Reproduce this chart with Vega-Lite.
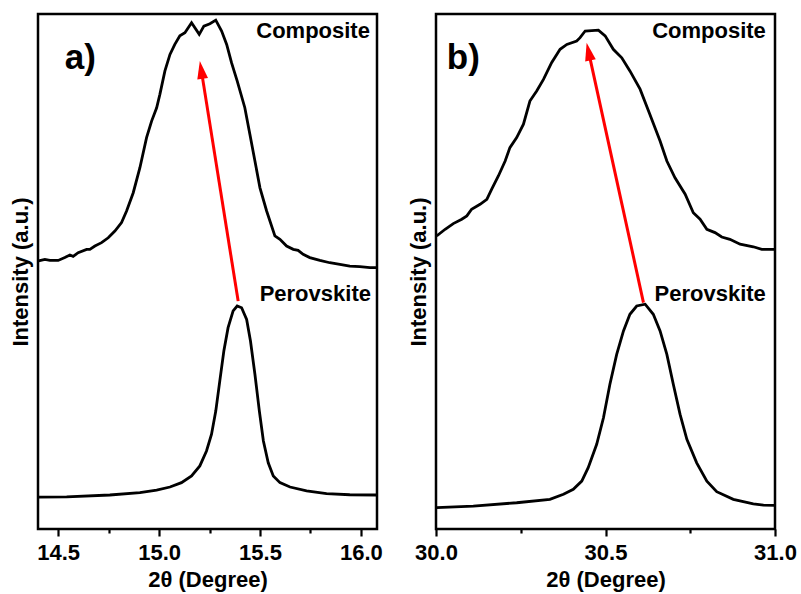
{
  "$schema": "https://vega.github.io/schema/vega-lite/v6.json",
  "padding": {"left": 7, "top": 12, "right": 5, "bottom": 5},
  "background": "white",
  "config": {
    "font": "Liberation Sans",
    "view": {"stroke": "black", "strokeWidth": 2.5},
    "axis": {"labelFont": "Liberation Sans", "titleFont": "Liberation Sans", "labelFontWeight": "bold", "titleFontWeight": "bold", "labelFontSize": 22, "titleFontSize": 22, "labelColor": "black", "titleColor": "black", "tickColor": "black", "domain": false, "grid": false}
  },
  "spacing": 21,
  "datasets": {
    "curvesA": [
      {"series": "Composite", "x": 14.403, "y": 1.041},
      {"series": "Composite", "x": 14.434, "y": 1.047},
      {"series": "Composite", "x": 14.459, "y": 1.043},
      {"series": "Composite", "x": 14.500, "y": 1.043},
      {"series": "Composite", "x": 14.533, "y": 1.054},
      {"series": "Composite", "x": 14.558, "y": 1.064},
      {"series": "Composite", "x": 14.574, "y": 1.059},
      {"series": "Composite", "x": 14.599, "y": 1.073},
      {"series": "Composite", "x": 14.641, "y": 1.086},
      {"series": "Composite", "x": 14.657, "y": 1.086},
      {"series": "Composite", "x": 14.682, "y": 1.099},
      {"series": "Composite", "x": 14.715, "y": 1.112},
      {"series": "Composite", "x": 14.748, "y": 1.131},
      {"series": "Composite", "x": 14.781, "y": 1.157},
      {"series": "Composite", "x": 14.814, "y": 1.190},
      {"series": "Composite", "x": 14.839, "y": 1.235},
      {"series": "Composite", "x": 14.872, "y": 1.306},
      {"series": "Composite", "x": 14.905, "y": 1.403},
      {"series": "Composite", "x": 14.938, "y": 1.520},
      {"series": "Composite", "x": 14.963, "y": 1.584},
      {"series": "Composite", "x": 14.988, "y": 1.636},
      {"series": "Composite", "x": 15.004, "y": 1.688},
      {"series": "Composite", "x": 15.029, "y": 1.779},
      {"series": "Composite", "x": 15.054, "y": 1.843},
      {"series": "Composite", "x": 15.078, "y": 1.882},
      {"series": "Composite", "x": 15.103, "y": 1.915},
      {"series": "Composite", "x": 15.128, "y": 1.927},
      {"series": "Composite", "x": 15.161, "y": 1.966},
      {"series": "Composite", "x": 15.199, "y": 1.921},
      {"series": "Composite", "x": 15.222, "y": 1.953},
      {"series": "Composite", "x": 15.252, "y": 1.962},
      {"series": "Composite", "x": 15.281, "y": 1.976},
      {"series": "Composite", "x": 15.310, "y": 1.934},
      {"series": "Composite", "x": 15.335, "y": 1.882},
      {"series": "Composite", "x": 15.359, "y": 1.811},
      {"series": "Composite", "x": 15.387, "y": 1.740},
      {"series": "Composite", "x": 15.425, "y": 1.636},
      {"series": "Composite", "x": 15.450, "y": 1.533},
      {"series": "Composite", "x": 15.475, "y": 1.429},
      {"series": "Composite", "x": 15.500, "y": 1.325},
      {"series": "Composite", "x": 15.533, "y": 1.235},
      {"series": "Composite", "x": 15.574, "y": 1.138},
      {"series": "Composite", "x": 15.599, "y": 1.125},
      {"series": "Composite", "x": 15.632, "y": 1.099},
      {"series": "Composite", "x": 15.665, "y": 1.086},
      {"series": "Composite", "x": 15.689, "y": 1.082},
      {"series": "Composite", "x": 15.714, "y": 1.067},
      {"series": "Composite", "x": 15.747, "y": 1.054},
      {"series": "Composite", "x": 15.797, "y": 1.043},
      {"series": "Composite", "x": 15.846, "y": 1.034},
      {"series": "Composite", "x": 15.896, "y": 1.028},
      {"series": "Composite", "x": 15.945, "y": 1.021},
      {"series": "Composite", "x": 15.995, "y": 1.019},
      {"series": "Composite", "x": 16.045, "y": 1.015},
      {"series": "Composite", "x": 16.078, "y": 1.015},
      {"series": "Perovskite", "x": 14.403, "y": 0.124},
      {"series": "Perovskite", "x": 14.542, "y": 0.125},
      {"series": "Perovskite", "x": 14.756, "y": 0.132},
      {"series": "Perovskite", "x": 14.905, "y": 0.141},
      {"series": "Perovskite", "x": 14.988, "y": 0.151},
      {"series": "Perovskite", "x": 15.054, "y": 0.163},
      {"series": "Perovskite", "x": 15.111, "y": 0.180},
      {"series": "Perovskite", "x": 15.161, "y": 0.206},
      {"series": "Perovskite", "x": 15.202, "y": 0.245},
      {"series": "Perovskite", "x": 15.235, "y": 0.303},
      {"series": "Perovskite", "x": 15.260, "y": 0.368},
      {"series": "Perovskite", "x": 15.281, "y": 0.458},
      {"series": "Perovskite", "x": 15.301, "y": 0.575},
      {"series": "Perovskite", "x": 15.321, "y": 0.691},
      {"series": "Perovskite", "x": 15.342, "y": 0.782},
      {"series": "Perovskite", "x": 15.367, "y": 0.847},
      {"series": "Perovskite", "x": 15.387, "y": 0.866},
      {"series": "Perovskite", "x": 15.409, "y": 0.859},
      {"series": "Perovskite", "x": 15.434, "y": 0.814},
      {"series": "Perovskite", "x": 15.453, "y": 0.730},
      {"series": "Perovskite", "x": 15.475, "y": 0.601},
      {"series": "Perovskite", "x": 15.497, "y": 0.458},
      {"series": "Perovskite", "x": 15.517, "y": 0.342},
      {"series": "Perovskite", "x": 15.541, "y": 0.257},
      {"series": "Perovskite", "x": 15.566, "y": 0.206},
      {"series": "Perovskite", "x": 15.599, "y": 0.180},
      {"series": "Perovskite", "x": 15.649, "y": 0.163},
      {"series": "Perovskite", "x": 15.731, "y": 0.148},
      {"series": "Perovskite", "x": 15.830, "y": 0.137},
      {"series": "Perovskite", "x": 15.945, "y": 0.133},
      {"series": "Perovskite", "x": 16.078, "y": 0.132}
    ],
    "curvesB": [
      {"series": "Composite", "x": 30.002, "y": 1.138},
      {"series": "Composite", "x": 30.027, "y": 1.164},
      {"series": "Composite", "x": 30.051, "y": 1.186},
      {"series": "Composite", "x": 30.076, "y": 1.203},
      {"series": "Composite", "x": 30.091, "y": 1.216},
      {"series": "Composite", "x": 30.105, "y": 1.242},
      {"series": "Composite", "x": 30.130, "y": 1.261},
      {"series": "Composite", "x": 30.150, "y": 1.280},
      {"series": "Composite", "x": 30.164, "y": 1.319},
      {"series": "Composite", "x": 30.184, "y": 1.371},
      {"series": "Composite", "x": 30.204, "y": 1.429},
      {"series": "Composite", "x": 30.218, "y": 1.481},
      {"series": "Composite", "x": 30.238, "y": 1.520},
      {"series": "Composite", "x": 30.258, "y": 1.572},
      {"series": "Composite", "x": 30.277, "y": 1.662},
      {"series": "Composite", "x": 30.297, "y": 1.701},
      {"series": "Composite", "x": 30.317, "y": 1.746},
      {"series": "Composite", "x": 30.341, "y": 1.811},
      {"series": "Composite", "x": 30.366, "y": 1.863},
      {"series": "Composite", "x": 30.386, "y": 1.882},
      {"series": "Composite", "x": 30.415, "y": 1.895},
      {"series": "Composite", "x": 30.425, "y": 1.908},
      {"series": "Composite", "x": 30.440, "y": 1.934},
      {"series": "Composite", "x": 30.479, "y": 1.937},
      {"series": "Composite", "x": 30.499, "y": 1.915},
      {"series": "Composite", "x": 30.523, "y": 1.863},
      {"series": "Composite", "x": 30.548, "y": 1.830},
      {"series": "Composite", "x": 30.572, "y": 1.779},
      {"series": "Composite", "x": 30.602, "y": 1.708},
      {"series": "Composite", "x": 30.631, "y": 1.610},
      {"series": "Composite", "x": 30.661, "y": 1.507},
      {"series": "Composite", "x": 30.681, "y": 1.429},
      {"series": "Composite", "x": 30.705, "y": 1.364},
      {"series": "Composite", "x": 30.735, "y": 1.300},
      {"series": "Composite", "x": 30.759, "y": 1.228},
      {"series": "Composite", "x": 30.779, "y": 1.203},
      {"series": "Composite", "x": 30.799, "y": 1.164},
      {"series": "Composite", "x": 30.823, "y": 1.151},
      {"series": "Composite", "x": 30.843, "y": 1.134},
      {"series": "Composite", "x": 30.867, "y": 1.125},
      {"series": "Composite", "x": 30.897, "y": 1.106},
      {"series": "Composite", "x": 30.936, "y": 1.096},
      {"series": "Composite", "x": 30.961, "y": 1.086},
      {"series": "Composite", "x": 30.999, "y": 1.086},
      {"series": "Perovskite", "x": 30.002, "y": 0.083},
      {"series": "Perovskite", "x": 30.110, "y": 0.089},
      {"series": "Perovskite", "x": 30.238, "y": 0.102},
      {"series": "Perovskite", "x": 30.336, "y": 0.115},
      {"series": "Perovskite", "x": 30.376, "y": 0.135},
      {"series": "Perovskite", "x": 30.405, "y": 0.154},
      {"series": "Perovskite", "x": 30.430, "y": 0.186},
      {"series": "Perovskite", "x": 30.449, "y": 0.238},
      {"series": "Perovskite", "x": 30.474, "y": 0.329},
      {"series": "Perovskite", "x": 30.494, "y": 0.432},
      {"series": "Perovskite", "x": 30.513, "y": 0.562},
      {"series": "Perovskite", "x": 30.533, "y": 0.678},
      {"series": "Perovskite", "x": 30.553, "y": 0.769},
      {"series": "Perovskite", "x": 30.572, "y": 0.834},
      {"series": "Perovskite", "x": 30.592, "y": 0.866},
      {"series": "Perovskite", "x": 30.617, "y": 0.873},
      {"series": "Perovskite", "x": 30.641, "y": 0.834},
      {"series": "Perovskite", "x": 30.661, "y": 0.769},
      {"series": "Perovskite", "x": 30.681, "y": 0.678},
      {"series": "Perovskite", "x": 30.700, "y": 0.562},
      {"series": "Perovskite", "x": 30.720, "y": 0.445},
      {"series": "Perovskite", "x": 30.740, "y": 0.348},
      {"series": "Perovskite", "x": 30.769, "y": 0.257},
      {"series": "Perovskite", "x": 30.799, "y": 0.186},
      {"series": "Perovskite", "x": 30.828, "y": 0.145},
      {"series": "Perovskite", "x": 30.877, "y": 0.115},
      {"series": "Perovskite", "x": 30.936, "y": 0.098},
      {"series": "Perovskite", "x": 30.966, "y": 0.093},
      {"series": "Perovskite", "x": 30.999, "y": 0.092}
    ],
    "labelsA": [
      {"text": "Composite", "x": 16.045, "y": 1.906},
      {"text": "Perovskite", "x": 16.05, "y": 0.885}
    ],
    "labelsB": [
      {"text": "Composite", "x": 30.973, "y": 1.906},
      {"text": "Perovskite", "x": 30.973, "y": 0.885}
    ],
    "panelA": [{"text": "a)", "x": 14.533, "y": 1.786}],
    "panelB": [{"text": "b)", "x": 30.032, "y": 1.786}],
    "arrowA": [{"x": 15.392, "y": 0.885, "x2": 15.209, "y2": 1.783}],
    "arrowB": [{"x": 30.612, "y": 0.879, "x2": 30.450, "y2": 1.854}]
  },
  "hconcat": [
    {
      "width": 339,
      "height": 515,
      "layer": [
        {
          "data": {"name": "curvesA"},
          "mark": {"type": "line", "color": "black", "strokeWidth": 2.8, "clip": true},
          "encoding": {
            "x": {"field": "x", "type": "quantitative", "scale": {"domain": [14.4, 16.08], "nice": false, "zero": false},
              "axis": {"title": "2θ (Degree)", "values": [14.5, 14.75, 15, 15.25, 15.5, 15.75, 16], "labelExpr": "datum.value % 0.5 === 0 ? format(datum.value, '.1f') : ''", "tickSize": {"condition": {"test": "datum.value % 0.5 === 0", "value": 7}, "value": 4}, "tickWidth": 2.2, "labelPadding": 6, "titlePadding": 6, "labelOverlap": false, "labelFlush": false}},
            "y": {"field": "y", "type": "quantitative", "scale": {"domain": [0, 2], "nice": false, "zero": false},
              "axis": {"title": "Intensity (a.u.)", "labels": false, "ticks": false, "titlePadding": 6}},
            "detail": {"field": "series"}
          }
        },
        {
          "mark": {"type": "rule", "color": "black", "strokeWidth": 2.5},
          "encoding": {"y": {"datum": 1}}
        },
        {
          "data": {"name": "arrowA"},
          "mark": {"type": "rule", "color": "#ff0000", "strokeWidth": 3},
          "encoding": {
            "x": {"field": "x", "type": "quantitative"},
            "y": {"field": "y", "type": "quantitative"},
            "x2": {"field": "x2"},
            "y2": {"field": "y2"}
          }
        },
        {
          "data": {"name": "arrowA"},
          "mark": {"type": "point", "shape": "M0,-1L0.6,1L-0.6,1Z", "size": 324, "filled": true, "color": "#ff0000", "opacity": 1, "angle": 351},
          "encoding": {
            "x": {"field": "x2", "type": "quantitative"},
            "y": {"field": "y2", "type": "quantitative"}
          }
        },
        {
          "data": {"name": "labelsA"},
          "mark": {"type": "text", "align": "right", "baseline": "alphabetic", "font": "Liberation Sans", "fontWeight": "bold", "fontSize": 22, "color": "black"},
          "encoding": {
            "x": {"field": "x", "type": "quantitative"},
            "y": {"field": "y", "type": "quantitative"},
            "text": {"field": "text"}
          }
        },
        {
          "data": {"name": "panelA"},
          "mark": {"type": "text", "align": "left", "baseline": "alphabetic", "font": "Liberation Sans", "fontWeight": "bold", "fontSize": 35, "color": "black"},
          "encoding": {
            "x": {"field": "x", "type": "quantitative"},
            "y": {"field": "y", "type": "quantitative"},
            "text": {"field": "text"}
          }
        }
      ]
    },
    {
      "width": 339,
      "height": 515,
      "layer": [
        {
          "data": {"name": "curvesB"},
          "mark": {"type": "line", "color": "black", "strokeWidth": 2.8, "clip": true},
          "encoding": {
            "x": {"field": "x", "type": "quantitative", "scale": {"domain": [30, 31], "nice": false, "zero": false},
              "axis": {"title": "2θ (Degree)", "values": [30, 30.25, 30.5, 30.75, 31], "labelExpr": "datum.value % 0.5 === 0 ? format(datum.value, '.1f') : ''", "tickSize": {"condition": {"test": "datum.value % 0.5 === 0", "value": 7}, "value": 4}, "tickWidth": 2.2, "labelPadding": 6, "titlePadding": 6, "labelOverlap": false, "labelFlush": false}},
            "y": {"field": "y", "type": "quantitative", "scale": {"domain": [0, 2], "nice": false, "zero": false},
              "axis": {"title": "Intensity (a.u.)", "labels": false, "ticks": false, "titlePadding": 6}},
            "detail": {"field": "series"}
          }
        },
        {
          "mark": {"type": "rule", "color": "black", "strokeWidth": 2.5},
          "encoding": {"y": {"datum": 1}}
        },
        {
          "data": {"name": "arrowB"},
          "mark": {"type": "rule", "color": "#ff0000", "strokeWidth": 3},
          "encoding": {
            "x": {"field": "x", "type": "quantitative"},
            "y": {"field": "y", "type": "quantitative"},
            "x2": {"field": "x2"},
            "y2": {"field": "y2"}
          }
        },
        {
          "data": {"name": "arrowB"},
          "mark": {"type": "point", "shape": "M0,-1L0.6,1L-0.6,1Z", "size": 324, "filled": true, "color": "#ff0000", "opacity": 1, "angle": 347.7},
          "encoding": {
            "x": {"field": "x2", "type": "quantitative"},
            "y": {"field": "y2", "type": "quantitative"}
          }
        },
        {
          "data": {"name": "labelsB"},
          "mark": {"type": "text", "align": "right", "baseline": "alphabetic", "font": "Liberation Sans", "fontWeight": "bold", "fontSize": 22, "color": "black"},
          "encoding": {
            "x": {"field": "x", "type": "quantitative"},
            "y": {"field": "y", "type": "quantitative"},
            "text": {"field": "text"}
          }
        },
        {
          "data": {"name": "panelB"},
          "mark": {"type": "text", "align": "left", "baseline": "alphabetic", "font": "Liberation Sans", "fontWeight": "bold", "fontSize": 35, "color": "black"},
          "encoding": {
            "x": {"field": "x", "type": "quantitative"},
            "y": {"field": "y", "type": "quantitative"},
            "text": {"field": "text"}
          }
        }
      ]
    }
  ]
}
